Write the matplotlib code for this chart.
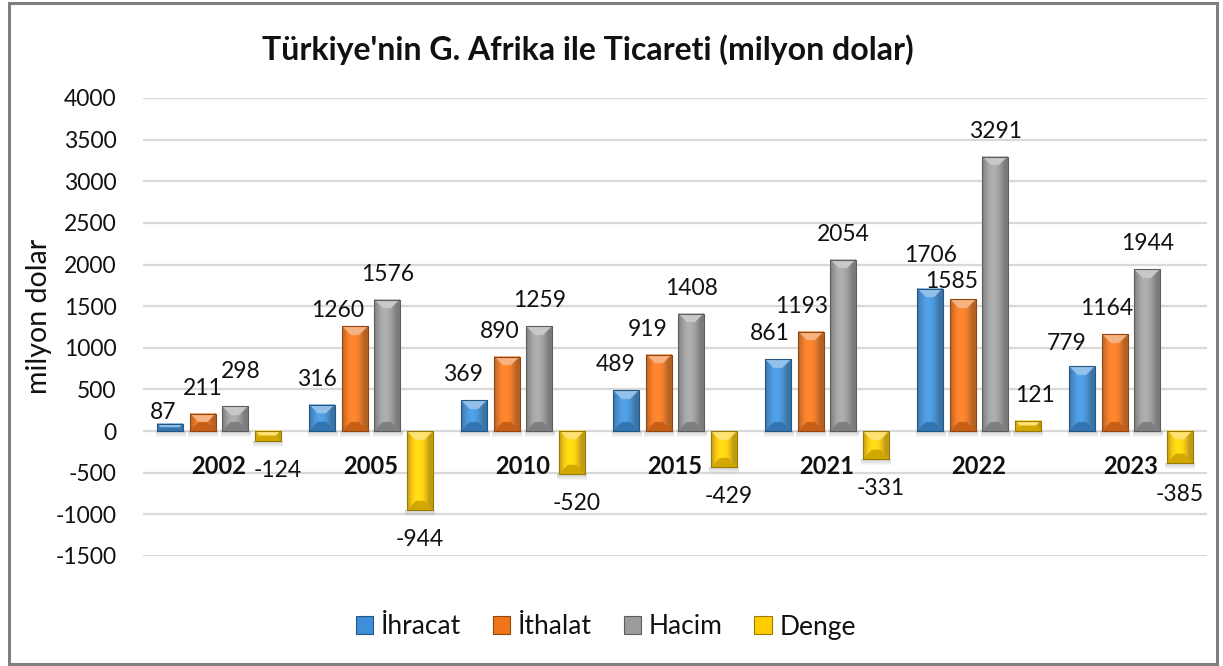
"""
Turkiye - G. Afrika ticaret grafigi (milyon dolar), Excel tarzi 3B cubuklar.
"""

import numpy as np
import matplotlib
matplotlib.use('Agg')
import matplotlib.pyplot as plt
from matplotlib.colors import to_rgb
from matplotlib.patches import Patch, Rectangle

years = ['2002', '2005', '2010', '2015', '2021', '2022', '2023']
series = ['İhracat', 'İthalat', 'Hacim', 'Denge']
ihracat = [87, 316, 369, 489, 861, 1706, 779]
ithalat = [211, 1260, 890, 919, 1193, 1585, 1164]
hacim = [298, 1576, 1259, 1408, 2054, 3291, 1944]
denge = [-124, -944, -520, -429, -331, 121, -385]

COLORS = ['#3d8fd9', '#f2741a', '#9c9c9c', '#ffcc00']
# default horizontal shift of value labels (pixels) per series
LABEL_DX = [-9, -9, 0, 5]
# hand-placed labels, (series, year) -> (dx, gap) in pixels
NUDGE = {
    (0, 0): (-7, 5), (1, 0): (0, 19), (2, 0): (6, 28),
    (0, 1): (-5, 19), (1, 1): (-17, 9),
    (0, 2): (-11, 19), (1, 2): (-7, 19),
    (0, 3): (-11, 19), (1, 3): (-11, 19),
    (0, 5): (0, 27), (1, 5): (-11, 11), (3, 5): (7, 19),
    (0, 6): (-16, 16), (1, 6): (-8, 19),
    (3, 0): (10, 20), (3, 1): (0, 20), (3, 6): (0, 22),
}

plt.rcParams['font.family'] = ['Lato', 'DejaVu Sans']
plt.rcParams['axes.unicode_minus'] = False
TEXT = '#111111'


def bar_image(color, w, h, bevel, scale=3):
    """RGB array for one bevelled bar, w x h in pixels."""
    base = np.array(to_rgb(color))
    nw, nh = max(int(w * scale), 2), max(int(h * scale), 2)
    bv = bevel * scale
    J, I = np.meshgrid(np.arange(nw) + 0.5, np.arange(nh) + 0.5)
    dl, dr, dt, db = J, nw - J, I, nh - I
    t = J / nw
    shade = 0.72 + 0.36 * np.sin(np.pi * np.clip(t * 1.15, 0, 1))
    img = base[None, None, :] * shade[..., None]
    img = img + (1 - img) * 0.08
    side = np.minimum(dl, dr)
    top = (dt < bv) & (dt <= side)
    bot = (db < bv) & (db <= side) & ~top
    light = base + (1 - base) * 0.45
    img[top] = light
    img[bot] = base * 0.82
    return np.clip(img, 0, 1)


def shadow_image(n=12):
    """Soft grey shadow fading downwards."""
    a = np.linspace(0.35, 0.0, n)
    img = np.zeros((n, 1, 4))
    img[..., :3] = 0.45
    img[:, 0, 3] = a
    return img


def main():
    fig = plt.figure(figsize=(12.23, 6.66), dpi=100)
    ax = fig.add_axes([143 / 1223, 110 / 666, 1064 / 1223, 458 / 666])
    ax.set_xlim(-0.5, len(years) - 0.5)
    ax.set_ylim(-1500, 4000)
    ax.set_yticks(np.arange(-1500, 4001, 500))
    ax.yaxis.grid(True, color='#d9d9d9', linewidth=1.6)
    ax.set_axisbelow(True)
    for sp in ax.spines.values():
        sp.set_visible(False)
    ax.tick_params(axis='y', length=0, pad=19, labelsize=16.5,
                   labelcolor=TEXT)
    ax.set_xticks([])

    # data units per pixel on y
    upp = 5500 / 458

    data = [ihracat, ithalat, hacim, denge]
    x = np.arange(len(years))
    step, width = 0.213, 0.171
    for k, vals in enumerate(data):
        xs = x + (k - 1.5) * step
        bars = ax.bar(xs, vals, width, color='none',
                      edgecolor=[c * 0.6 for c in to_rgb(COLORS[k])],
                      linewidth=0.8, zorder=3)
        for j, (rect, v) in enumerate(zip(bars, vals)):
            x0, x1 = rect.get_x(), rect.get_x() + rect.get_width()
            p0 = ax.transData.transform((x0, 0))
            p1 = ax.transData.transform((x1, v))
            wpx, hpx = abs(p1[0] - p0[0]), abs(p1[1] - p0[1])
            img = bar_image(COLORS[k], wpx, hpx, min(9, hpx / 2))
            ax.imshow(img, extent=[x0, x1, min(0, v), max(0, v)],
                      origin='upper', aspect='auto', interpolation='bilinear',
                      zorder=2)
            low = min(0, v)
            ax.imshow(shadow_image(), origin='upper', aspect='auto',
                      extent=[x0 - 0.01, x1 + 0.01, low - 7 * upp, low],
                      interpolation='bilinear', zorder=1.5)
            dx, gap = NUDGE.get((k, j), (LABEL_DX[k], 19 if v > 0 else 20))
            if v > 0:
                ax.annotate(str(v), (rect.get_x() + width / 2, v),
                            xytext=(dx, gap), textcoords='offset pixels',
                            ha='center', va='baseline', fontsize=16.5,
                            color=TEXT, zorder=4)
            else:
                ax.annotate(str(v), (rect.get_x() + width / 2, v),
                            xytext=(dx, -gap + 1), textcoords='offset pixels',
                            ha='center', va='top', fontsize=16.5,
                            color=TEXT, zorder=4)

    # category labels just under the zero line
    for i, yr in enumerate(years):
        ax.annotate(yr, (i, 0), xytext=(0, -35), textcoords='offset pixels',
                    ha='center', va='center', fontsize=17, fontweight='bold',
                    color=TEXT, zorder=4)
    ax.set_xlim(-0.5, len(years) - 0.5)
    ax.set_ylim(-1500, 4000)

    fig.text(588 / 1223, 1 - 50 / 666,
             "Türkiye'nin G. Afrika ile Ticareti (milyon dolar)",
             ha='center', va='center', fontsize=23, fontweight='bold',
             color=TEXT)
    fig.text(39 / 1223, 1 - 316 / 666, 'milyon dolar', rotation=90,
             ha='center', va='center', fontsize=20.5, color=TEXT)

    handles = [Patch(facecolor=c, edgecolor=[v * 0.6 for v in to_rgb(c)],
                     linewidth=0.8) for c in COLORS]
    fig.legend(handles, series, loc='center',
               bbox_to_anchor=(606 / 1223, 1 - 627 / 666), ncol=4,
               frameon=False, fontsize=19, handlelength=0.65,
               handleheight=0.65, handletextpad=0.3, columnspacing=1.2,
               labelcolor=TEXT)

    fig.patches.append(Rectangle((9 / 1223, 2 / 666), 1208 / 1223, 661 / 666,
                                 transform=fig.transFigure, fill=False,
                                 edgecolor='#7f7f7f', linewidth=2.2))
    fig.savefig('out.png', dpi=100)
    plt.close(fig)


if __name__ == '__main__':
    main()
